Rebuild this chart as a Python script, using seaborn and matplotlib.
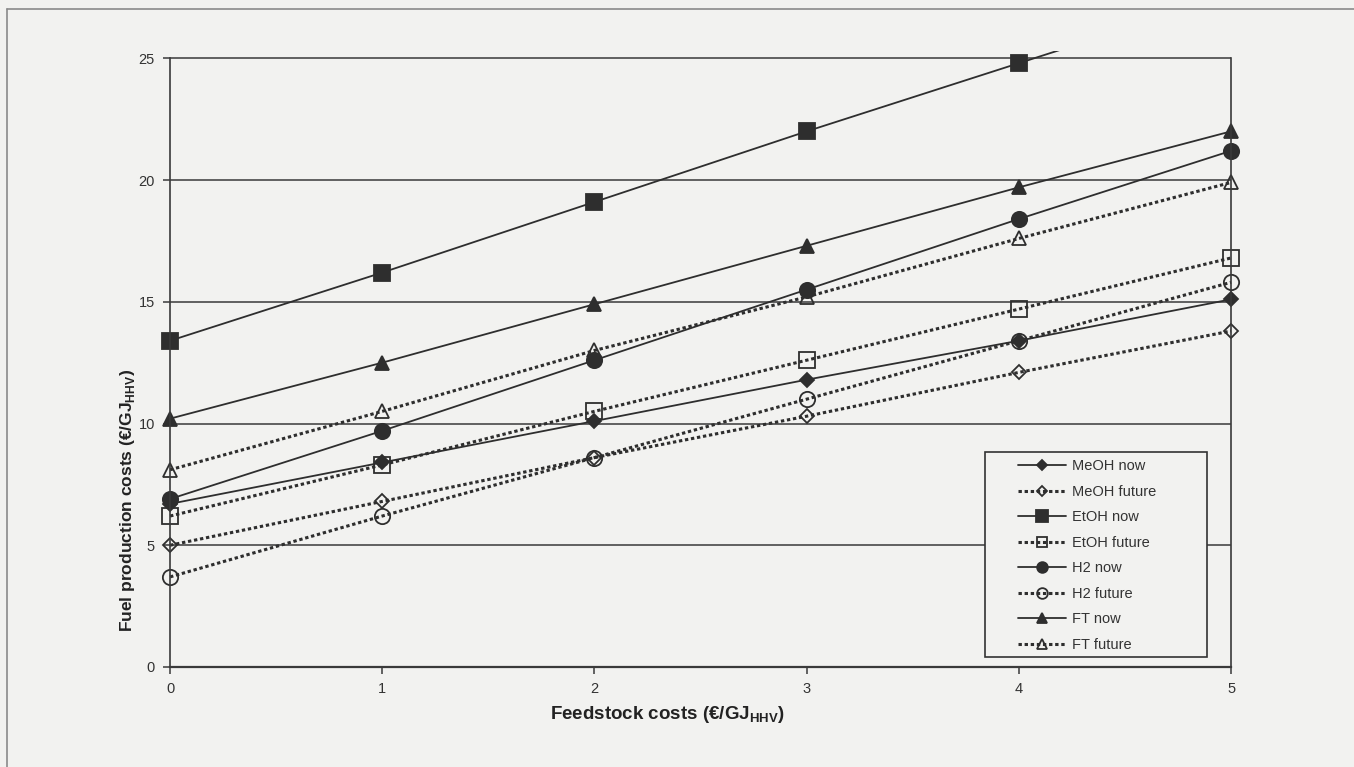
import pandas as pd
import matplotlib.pyplot as plt
import seaborn as sns
from matplotlib.lines import Line2D
from matplotlib.patches import Rectangle

# Values (fuel production cost, €/GJ_HHV)
feedstock = [0, 1, 2, 3, 4, 5]
meoh_now = [6.7, 8.4, 10.1, 11.8, 13.4, 15.1]
meoh_future = [5.0, 6.8, 8.6, 10.3, 12.1, 13.8]
etoh_now = [13.4, 16.2, 19.1, 22.0, 24.8, 27.6]
etoh_future = [6.2, 8.3, 10.5, 12.6, 14.7, 16.8]
h2_now = [6.9, 9.7, 12.6, 15.5, 18.4, 21.2]
h2_future = [3.7, 6.2, 8.6, 11.0, 13.4, 15.8]
ft_now = [10.2, 12.5, 14.9, 17.3, 19.7, 22.0]
ft_future = [8.1, 10.5, 13.0, 15.2, 17.6, 19.9]

series_names = ["MeOH now", "MeOH future", "EtOH now", "EtOH future",
                "H2 now", "H2 future", "FT now", "FT future"]
series_values = [meoh_now, meoh_future, etoh_now, etoh_future,
                 h2_now, h2_future, ft_now, ft_future]

rows = []
for name, vals in zip(series_names, series_values):
    for x, y in zip(feedstock, vals):
        rows.append({"series": name, "feedstock": x, "cost": y})
df = pd.DataFrame(rows)

# marker styles per series: (marker, size, filled)
styles = {
    "MeOH now": ("D", 6.7, True),
    "MeOH future": ("D", 6.7, False),
    "EtOH now": ("s", 12, True),
    "EtOH future": ("s", 11, False),
    "H2 now": ("o", 11, True),
    "H2 future": ("o", 11, False),
    "FT now": ("^", 10, True),
    "FT future": ("^", 10, False),
}

bg = "#f2f2f0"
ink = "#2e2e2e"

sns.set_style("white")
plt.rcParams["font.family"] = ["Liberation Sans", "DejaVu Sans"]
plt.rcParams["mathtext.fontset"] = "custom"
plt.rcParams["mathtext.rm"] = "Liberation Sans"
plt.rcParams["mathtext.bf"] = "Liberation Sans:bold"

fig = plt.figure(figsize=(13.54, 7.67), dpi=100, facecolor=bg)
ax = fig.add_axes([0.1256, 0.1304, 0.7836, 0.8031])
ax.set_facecolor(bg)

# clip region: wide enough for the end markers, but cut at the top of the plot
clip = Rectangle((-0.03, -0.05), 1.06, 1.05, transform=ax.transAxes,
                 facecolor="none", edgecolor="none")

for name in series_names:
    marker, ms, filled = styles[name]
    sub = df[df["series"] == name]
    if filled:
        ls, lw = "-", 1.3
    else:
        ls, lw = (0, (1.1, 0.9)), 2.2
    sns.lineplot(data=sub, x="feedstock", y="cost", ax=ax, color=ink,
                 linestyle=ls, linewidth=lw, marker=marker, markersize=ms,
                 markerfacecolor=ink if filled else "none",
                 markeredgecolor=ink, markeredgewidth=1.3,
                 label=name, legend=False)
    ax.lines[-1].set_clip_path(clip)

ax.set_xlim(0, 5)
ax.set_ylim(0, 25.3)
ax.set_xticks(feedstock)
ax.set_yticks([0, 5, 10, 15, 20, 25])
for y in [5, 10, 15, 20, 25]:
    ax.axhline(y, color="#3a3a3a", linewidth=1.1, zorder=0.5)

ax.spines["top"].set_visible(False)
for side in ["left", "right", "bottom"]:
    ax.spines[side].set_color("#3a3a3a")
    ax.spines[side].set_linewidth(1.2)
ax.spines["left"].set_bounds(0, 25)
ax.spines["right"].set_bounds(0, 25)
ax.spines["bottom"].set_linewidth(1.6)

ax.tick_params(axis="both", direction="out", length=5, width=1.1,
               color="#3a3a3a", labelsize=10.5, labelcolor="#333333")
ax.tick_params(axis="x", pad=6, bottom=True)
ax.tick_params(axis="y", pad=6, left=True)

ax.set_xlabel(r"Feedstock costs (€/GJ$_{\mathbf{HHV}}$)", fontsize=13.5,
              fontweight="bold", color="#222222")
ax.set_ylabel(r"Fuel production costs (€/GJ$_{\mathbf{HHV}}$)", fontsize=12.5,
              fontweight="bold", color="#222222")
ax.xaxis.set_label_coords(0.469, -0.06)
ax.yaxis.set_label_coords(-0.031, 0.27)

# legend box drawn separately so its padding matches the original
ax.add_patch(Rectangle((0.768, 0.016), 0.209, 0.333, transform=ax.transAxes,
                       facecolor=bg, edgecolor="#333333", linewidth=1.2,
                       zorder=4.5, clip_on=False))
leg = ax.legend(loc="center left", bbox_to_anchor=(0.799, 0.181), fontsize=10.5,
                frameon=False, handlelength=3.3, handletextpad=0.4,
                labelspacing=0.79, borderpad=0, borderaxespad=0, markerscale=0.7)
leg.set_zorder(5)
for t in leg.get_texts():
    t.set_color("#333333")

# page frame of the scanned figure box
fig.add_artist(Line2D([7 / 1354, 7 / 1354], [0, 1 - 9 / 767],
                      transform=fig.transFigure, color="#8a8a8a", linewidth=1.2))
fig.add_artist(Line2D([7 / 1354, 1], [1 - 9 / 767, 1 - 9 / 767],
                      transform=fig.transFigure, color="#8a8a8a", linewidth=1.2))

fig.savefig("out.png", dpi=100, facecolor=bg)
